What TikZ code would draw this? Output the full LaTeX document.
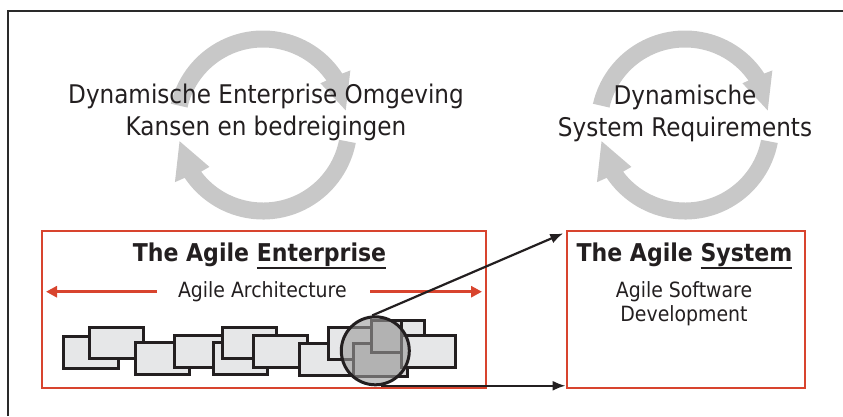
\documentclass[tikz,border=0pt]{standalone}
\usepackage{fontspec}
\setmainfont{DejaVu Sans Condensed}
\usetikzlibrary{arrows.meta,calc}
\definecolor{ringgray}{HTML}{C8C8C8}
\definecolor{blockfill}{HTML}{E6E7E8}
\definecolor{ink}{HTML}{231F20}
\definecolor{agred}{HTML}{D8442E}
\definecolor{darkblock}{HTML}{D6D6D6}
\definecolor{lensgray}{HTML}{9B9B9B}
\definecolor{framegray}{HTML}{2A2A2A}
\newsavebox{\myulbox}
\newcommand{\myul}[1]{\sbox{\myulbox}{#1}\rlap{\rule[-7.7pt]{\wd\myulbox}{2.3pt}}\usebox{\myulbox}}
\newcommand{\ringarrows}[1]{%
  \begin{scope}[shift={#1}]
    \fill[ringgray] (167:94.5pt) arc[start angle=167, end angle=33, radius=94.5pt]
      -- (32:103pt) -- (10:84pt) -- (36:71pt) -- (35:77.5pt)
      arc[start angle=35, end angle=167, radius=77.5pt] -- cycle;
    \fill[ringgray] (-11:94.5pt) arc[start angle=-11, end angle=-146, radius=94.5pt]
      -- (-147:105pt) -- (-169:85pt) -- (-142:68pt) -- (-143:77.5pt)
      arc[start angle=-143, end angle=-11, radius=77.5pt] -- cycle;
  \end{scope}}
\tikzset{
  toptext/.style={anchor=base, inner sep=0pt, text=ink, font=\fontsize{25.7}{30}\selectfont},
  titletext/.style={anchor=base, inner sep=0pt, text=ink, font=\bfseries\fontsize{24.5}{30}\selectfont},
  subtext/.style={anchor=base, inner sep=0pt, text=ink, font=\fontsize{21}{24}\selectfont},
  redbox/.style={draw=agred, line width=2.8pt, inner sep=0pt},
  redarrow/.style={draw=agred, line width=2.8pt, -{Triangle[length=11pt,width=11pt]}},
  block/.style={draw=ink, fill=blockfill, line width=3pt},
  darkblk/.style={draw=ink, fill=darkblock, line width=3pt},
  blackarrow/.style={draw=ink, line width=2.2pt, -{Latex[length=13pt,width=10pt]}}
}
\begin{document}
\begin{tikzpicture}[x=1pt,y=-1pt]
\useasboundingbox (0,0) rectangle (843,416);
% outer frame (only left and top visible)
\draw[framegray, line width=2.8pt] (8,416) -- (8,11) -- (843,11);
% circular arrows
\ringarrows{(263,125)}
\ringarrows{(685,125)}
% texts on cycles
\node[toptext] (env1) at (266,103.5) {Dynamische Enterprise Omgeving};
\node[toptext] (env2) at (266,135.5) {Kansen en bedreigingen};
\node[toptext] (req1) at (685,104) {Dynamische};
\node[toptext] (req2) at (685,136) {System Requirements};
% red boxes
\node[redbox, minimum width=444pt, minimum height=157pt] (lb) at (264,309.5) {};
\node[redbox, minimum width=238pt, minimum height=157pt] (rb) at (686,309.5) {};
% titles
\node[titletext] (ent) at (259.5,261.7) {The Agile \myul{Enterprise}};
\node[titletext] (sys) at (684.5,261.5) {The Agile \myul{System}};
\node[subtext] (arch) at (262.3,297.7) {Agile Architecture};
\node[subtext] (sw1) at (684,297.7) {Agile Software};
\node[subtext] (sw2) at (684,321) {Development};
% red architecture arrows
\coordinate (archL) at (157,291.7);
\coordinate (archLtip) at (46,291.7);
\coordinate (archR) at (370,291.7);
\coordinate (archRtip) at (482,291.7);
\draw[redarrow] (archL) -- (archLtip);
\draw[redarrow] (archR) -- (archRtip);
% building blocks
\draw[block] (63,336) rectangle (118,368);
\draw[block] (89,327) rectangle (143,358);
\draw[block] (135,342) rectangle (189,374);
\draw[block] (174,335) rectangle (227,367);
\draw[block] (213,342) rectangle (267,374);
\draw[block] (222,327) rectangle (276,358);
\draw[block] (253,335) rectangle (307,367);
\draw[block] (299,343) rectangle (353,375);
\draw[block] (328,327) rectangle (380,359);
\draw[block] (371,320) rectangle (424,352);
\draw[darkblk] (353,343) rectangle (407,376.5);
\draw[darkblk] (371,320) rectangle (401,352);
\draw[block] (401,335) rectangle (455,367);
% magnifier
\node[circle, minimum size=68pt, inner sep=0pt, fill=lensgray, fill opacity=0.6] (lensfill) at (375.3,350.8) {};
\node[circle, minimum size=68pt, inner sep=0pt, draw=ink, line width=3pt] (lens) at (375.3,350.8) {};
% black arrows
\coordinate (sysTop) at (563.3,233.3);
\draw[blackarrow] (lens.95) -- (sysTop);
\draw[blackarrow] (lens.-80) -- (lens.-80 -| rb.west);
\end{tikzpicture}
\end{document}
